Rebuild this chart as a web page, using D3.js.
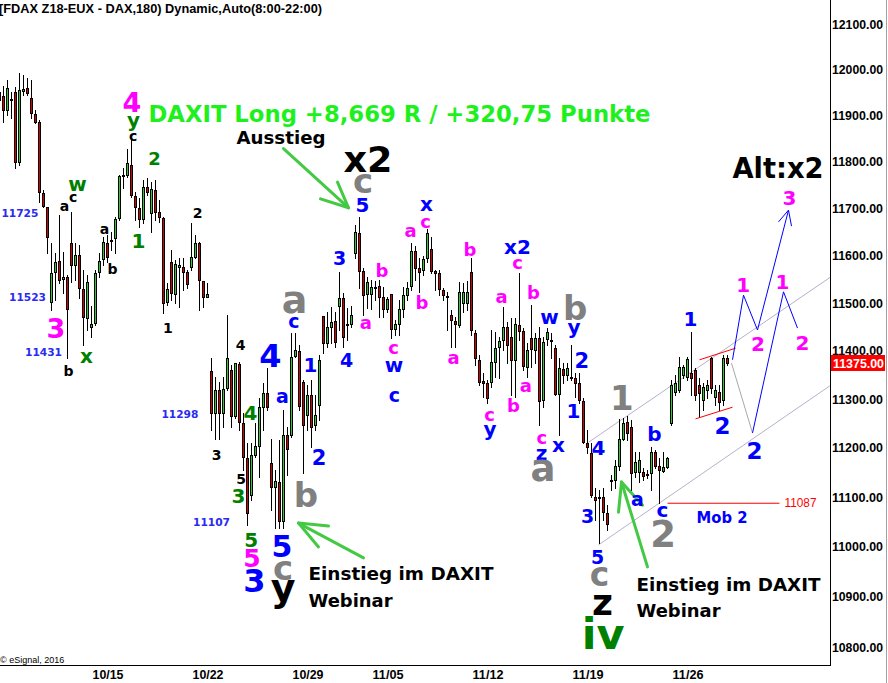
<!DOCTYPE html>
<html><head><meta charset="utf-8">
<script src="https://cdn.jsdelivr.net/npm/d3@7"></script>
<style>body{margin:0;background:#fff;}svg{display:block;}</style>
</head><body>
<svg id="c" width="888" height="683"></svg>
<script>
// ---------------- DATA ----------------
const opens = [11933,11942,11912,11936,11951,11799,11953,11960,11938,11903,
11886,11733,11703,11502,11565,11588,11550,11554,11626,11580,
11601,11529,11468,11449,11458,11565,11592,11626,11633,11637,
11679,11769,11771,11793,11726,11701,11677,11746,11690,11739,
11692,11679,11502,11586,11519,11575,11575,11565,11575,11596,
11626,11546,11512,11358,11271,11318,11271,11322,11360,11265,
11372,11251,11179,11104,11185,11204,11283,11312,11169,11120,
11130,11051,11226,11226,11389,11399,11335,11267,11308,11246,
11288,11472,11416,11449,11462,11493,11510,11456,11456,11605,
11647,11567,11519,11519,11533,11535,11512,11487,11519,11445,
11456,11487,11517,11535,11609,11573,11569,11594,11614,11567,
11563,11527,11514,11474,11462,11453,11500,11500,11565,11437,
11381,11337,11333,11335,11376,11408,11422,11449,11428,11381,
11453,11441,11366,11426,11401,11426,11298,11424,11422,11405,
11310,11362,11349,11345,11343,11333,11296,11210,11189,11100,
11100,11100,11067,11132,11134,11163,11218,11253,11242,11151,
11151,11151,11146,11149,11191,11163,11153,11161,11251,11315,
11318,11349,11345,11354,11360,11329,11298,11318,11385,11304,
11315,11298,11385];
const highs = [12001,11964,11977,11951,11962,11992,11988,11981,11977,11912,
11890,11739,11703,11626,11605,11686,11607,11559,11692,11626,
11622,11569,11559,11493,11569,11605,11639,11643,11649,11681,
11771,11786,11827,11847,11735,11722,11761,11765,11756,11761,
11718,11681,11542,11611,11590,11594,11594,11569,11669,11643,
11628,11546,11542,11385,11345,11335,11345,11475,11370,11374,
11376,11271,11210,11210,11251,11302,11333,11364,11218,11155,
11216,11277,11242,11437,11437,11412,11339,11329,11339,11308,
11391,11472,11481,11491,11481,11565,11521,11489,11493,11664,
11681,11573,11554,11548,11546,11548,11533,11512,11519,11464,
11506,11533,11544,11626,11620,11594,11599,11656,11639,11569,
11569,11531,11523,11485,11470,11544,11542,11546,11594,11443,
11391,11354,11339,11443,11439,11428,11491,11460,11468,11468,
11563,11447,11416,11495,11437,11449,11428,11447,11437,11412,
11385,11374,11374,11412,11354,11354,11302,11236,11210,11118,
11114,11118,11083,11145,11175,11259,11261,11265,11257,11191,
11191,11159,11155,11201,11195,11179,11191,11181,11339,11350,
11387,11370,11387,11439,11364,11343,11333,11339,11387,11329,
11329,11391,11391];
const lows = [11907,11886,11901,11894,11786,11793,11944,11944,11894,11883,
11714,11703,11605,11485,11506,11542,11521,11385,11544,11548,
11510,11412,11443,11428,11454,11554,11580,11586,11611,11605,
11675,11744,11767,11724,11675,11660,11669,11728,11649,11675,
11671,11479,11495,11506,11500,11491,11527,11531,11569,11594,
11485,11491,11512,11236,11217,11217,11242,11318,11242,11261,
11236,11155,11043,11094,11181,11141,11236,11277,11073,11037,
11037,11037,11144,11222,11387,11277,11148,11236,11201,11236,
11257,11395,11408,11416,11408,11443,11408,11422,11449,11594,
11531,11474,11489,11487,11506,11470,11470,11481,11426,11433,
11433,11470,11506,11527,11548,11523,11559,11586,11563,11527,
11517,11506,11443,11408,11408,11449,11481,11485,11433,11370,
11329,11304,11292,11325,11345,11343,11401,11374,11308,11304,
11422,11360,11345,11366,11374,11246,11283,11412,11385,11308,
11226,11333,11339,11339,11304,11292,11210,11189,11100,11053,
11007,11053,11033,11114,11118,11155,11216,11216,11114,11140,
11130,11134,11138,11114,11159,11087,11151,11159,11246,11308,
11315,11343,11339,11308,11298,11263,11277,11302,11312,11288,
11277,11288,11370];
const closes = [11951,11912,11960,11933,11799,11955,11957,11949,11905,11886,
11735,11705,11639,11563,11586,11548,11554,11487,11580,11601,
11531,11470,11544,11456,11563,11588,11628,11596,11631,11677,
11769,11771,11797,11728,11703,11677,11746,11735,11741,11692,
11681,11500,11529,11521,11582,11580,11565,11540,11596,11626,
11548,11512,11519,11271,11318,11271,11320,11385,11265,11374,
11253,11181,11067,11185,11204,11283,11312,11283,11120,11132,
11051,11226,11197,11387,11401,11285,11246,11308,11242,11267,
11381,11416,11449,11460,11418,11510,11428,11454,11474,11650,
11567,11517,11544,11533,11531,11512,11487,11508,11445,11456,
11487,11517,11531,11609,11573,11565,11592,11647,11567,11563,
11529,11517,11512,11464,11456,11523,11523,11523,11443,11385,
11335,11333,11302,11376,11405,11420,11449,11412,11381,11456,
11441,11368,11401,11403,11426,11296,11418,11439,11422,11310,
11364,11349,11364,11345,11333,11298,11212,11201,11104,11094,
11098,11069,11045,11134,11163,11218,11251,11230,11149,11171,
11175,11142,11146,11191,11163,11155,11161,11179,11329,11333,
11366,11366,11383,11343,11308,11312,11325,11329,11322,11318,
11294,11385,11375];
const dateLabels = ["10/15","10/22","10/29","11/05","11/12","11/19","11/26"];
const dateIndex  = [27,52,77,97,122,147,172];
const priceTicks = [10800,10900,11000,11100,11200,11300,11400,11500,11600,11700,11800,11900,12000,12100];
const lastPrice = 11375;
const mobLevel = 11087;

// trend / projection lines: [barIndex, price]
const channelUpper = [[147.25,11211],[207.75,11554]];
const channelLower = [[149.75,11003],[207.75,11328]];
const redUpper = [[175,11381],[184,11405]];
const redLower = [[174,11259],[183.25,11283]];
const mobLine = [[167,mobLevel],[195,mobLevel]];
const grayProj = [[183,11374],[188.25,11230]];
const projA = [[183.25,11381],[186,11516],[189.5,11443],[197.25,11696]];
const projAHead = [[194.75,11671],[197.25,11696],[198,11662]];
const projB = [[188.25,11230],[196,11523],[199.5,11447]];
const arrow1 = [[71,11828],[87.25,11701]], arrow1Head = [[84.5,11756],[87.25,11701],[80.25,11720]];
const arrow2 = [[91,10977],[74.75,11047]], arrow2Head = [[82.25,11041],[74.75,11047],[79.75,10999]];
const arrow3 = [[162,10959],[155.5,11130]], arrow3Head = [[154.75,11069],[155.5,11130],[160.75,11083]];

// wave labels: [barIndex, price, text, styleKey]
const waveLabels = [
 [33.4,11852,"c","k14"],[16.25,11702,"a","k14"],[18.4,11722,"c","k14"],[26.25,11653,"a","k14"],
 [28.25,11572,"b","k14"],[49.5,11690,"2","k14"],[42.1,11448,"1","k14"],[17.25,11358,"b","k14"],
 [60.25,11412,"4","k14"],[54.25,11186,"3","k14"],[60.4,11137,"5","k14"],
 [33.5,11882,"y","g20"],[38.75,11807,"2","g18"],[19.5,11748,"w","g20"],[34.75,11632,"1","g20"],
 [21.75,11386,"x","g20"],[62.75,11272,"4","g20"],[59.75,11103,"3","g20"],[62.9,11014,"5","g20"],
 [150.9,10827,"iv","g43"],
 [33.1,11929,"4","m27"],[14.1,11447,"3","m27"],[63.1,10978,"5","m25"],
 [95.6,11567,"b","m18"],[91.6,11456,"a","m18"],[98.5,11403,"c","m18"],[102.75,11650,"a","m18"],
 [106.5,11669,"c","m18"],[105.6,11501,"b","m18"],[113.5,11383,"a","m18"],[117.6,11612,"b","m18"],
 [129.5,11582,"c","m18"],[125.5,11509,"a","m18"],[133.5,11521,"b","m18"],[122.5,11265,"c","m18"],
 [128.5,11286,"b","m18"],[131.6,11324,"a","m18"],[135.6,11218,"c","m18"],
 [185.9,11538,"1","m20"],[189.6,11414,"2","m20"],[197.5,11723,"3","m20"],[195.75,11544,"1","m20"],[200.75,11416,"2","m20"],
 [90.75,11708,"5","b20"],[85,11594,"3","b19"],[86.75,11381,"4","b19"],[106.75,11705,"x","b20"],
 [98.6,11367,"w","b20"],[98.75,11304,"c","b19"],[129.5,11619,"x2","b20"],[137.5,11467,"w","b20"],
 [143.6,11442,"y","b20"],[145.6,11380,"2","b21"],[122.6,11230,"y","b20"],[135.5,11187,"z","b20"],
 [139.75,11203,"x","b20"],[143.5,11275,"1","b20"],[67.75,11391,"4","b32"],[73.6,11458,"c","b19"],
 [77.75,11371,"1","b20"],[70.75,11303,"a","b19"],[79.9,11180,"2","b21"],[70.6,11001,"5","b30"],
 [63.75,10933,"3","b32"],[149.75,11199,"4","b20"],[147,11061,"3","b19"],[149.5,10979,"5","b19"],
 [163.75,11228,"b","b20"],[159.5,11092,"a","b19"],[165.75,11071,"c","b20"],[172.75,11466,"1","b20"],
 [180.75,11246,"2","b23"],[188.75,11195,"2","b23"],
 [90.9,11752,"c","gr34"],[73.75,11500,"a","gr38"],[76.6,11105,"b","gr34"],[70.9,10951,"c","gr34"],
 [143.9,11490,"b","gr34"],[135.9,11152,"a","gr37"],[155.6,11303,"1","gr34"],[165.9,11026,"2","gr37"],
 [150,10938,"c","gr33"],
 [70.9,10902,"y","k38"],[150.75,10883,"z","k36"]
];
// price notes: [barIndex, price, text]
const priceNotes = [[5.1,11690,"11725"],[7,11512,"11523"],[11,11397,"11431"],[45.1,11269,"11298"],[53,11049,"11107"]];
// free texts: [barIndex, price, text, styleKey, anchor, width]
const texts = [
 [37.25,11903,"DAXIT Long +8,669 R / +320,75 Punkte","lime",  "start",502],
 [59.25,11852,"Ausstieg","t18","start",89],
 [92.1,11807,"x2","t36","middle",49],
 [183.25,11786,"Alt:x2","t27","start",91],
 [77.25,10946,"Einstieg im DAXIT","t18","start",185],
 [77.25,10893,"Webinar","t18","start",84],
 [159.25,10925,"Einstieg im DAXIT","t18","start",184],
 [159.25,10873,"Webinar","t18","start",84],
 [174.25,11058,"Mob 2","mob","start",51],
 [196.25,11090,"11087","red","start",32]
];

// ---------------- STYLES ----------------
const FA = "'Liberation Sans', Arial, sans-serif";
const FV = "'DejaVu Sans', Verdana, sans-serif";
const ST = {
 k14:{c:"#000",s:14}, k36:{c:"#000",s:36}, k38:{c:"#000",s:38},
 g18:{c:"#008000",s:18}, g20:{c:"#008000",s:20}, g43:{c:"#008000",s:43},
 m18:{c:"#ff00ff",s:18}, m20:{c:"#ff00ff",s:20}, m25:{c:"#ff00ff",s:25}, m27:{c:"#ff00ff",s:27},
 b19:{c:"#0000ff",s:19}, b20:{c:"#0000ff",s:20}, b21:{c:"#0000ff",s:21}, b23:{c:"#0000ff",s:23},
 b30:{c:"#0000ff",s:30}, b32:{c:"#0000ff",s:32},
 gr33:{c:"#808080",s:33}, gr34:{c:"#808080",s:34}, gr37:{c:"#808080",s:37}, gr38:{c:"#808080",s:38},
 lime:{c:"#1ef01e",s:22.5}, t18:{c:"#000",s:18.3}, t36:{c:"#000",s:36}, t27:{c:"#000",s:27.5},
 mob:{c:"#0000ff",s:15}, red:{c:"#ff0000",s:13,w:"normal",f:FA}
};
const UP="#2ecc2e", DOWN="#d40000";

// ---------------- SCALES ----------------
const svg = d3.select("#c");
const x = d3.scaleLinear().domain([0,207.75]).range([-1,830]);
const y = d3.scaleLog().domain([10800,12100]).range([647,24]);
const px = d => Math.round(x(d));
function baseOff(t){
  if (/[A-Z0-9bdfhiklt]/.test(t)) return 0.365;
  if (/[gjpqy]/.test(t)) return 0.155;
  return 0.275;
}

svg.append("rect").attr("width",888).attr("height",683).attr("fill","#fff");
svg.append("defs").append("clipPath").attr("id","plot").append("rect")
  .attr("x",0).attr("y",0).attr("width",830).attr("height",665);

// header
svg.append("text").attr("x",-1).attr("y",12.7).attr("font-family",FA).attr("font-weight","bold")
  .attr("font-size",12.8).attr("textLength",323).attr("lengthAdjust","spacingAndGlyphs")
  .text("[FDAX Z18-EUX - DAX,180) Dynamic,Auto(8:00-22:00)");

const plot = svg.append("g").attr("clip-path","url(#plot)");
const line = d3.line().x(d=>x(d[0])+0.5).y(d=>y(d[1]));

// channel & projection lines
plot.append("path").attr("d",line(channelUpper)).attr("stroke","#b9b0cc").attr("fill","none");
plot.append("path").attr("d",line(channelLower)).attr("stroke","#b9b0cc").attr("fill","none");
plot.append("path").attr("d",line(grayProj)).attr("stroke","#a8a8a8").attr("fill","none");

// candles
const bars = d3.range(closes.length).map(i=>({i,o:opens[i],h:highs[i],l:lows[i],c:closes[i]}));
const cg = plot.append("g").attr("shape-rendering","crispEdges");
cg.selectAll("line").data(bars).join("line")
  .attr("x1",d=>px(d.i)+0.5).attr("x2",d=>px(d.i)+0.5)
  .attr("y1",d=>Math.round(y(d.h))).attr("y2",d=>Math.round(y(d.l))+1)
  .attr("stroke","#000").attr("stroke-width",1);
const geo = d=>{const t=Math.round(y(Math.max(d.o,d.c))), b=Math.round(y(Math.min(d.o,d.c))); return {t, h:Math.max(1,b-t)};};
cg.selectAll("rect.o").data(bars).join("rect").attr("class","o")
  .attr("x",d=>px(d.i)-1).attr("y",d=>geo(d).t).attr("width",3).attr("height",d=>geo(d).h+1).attr("fill","#000");
cg.selectAll("rect.in").data(bars.filter(d=>geo(d).h>=2)).join("rect").attr("class","in")
  .attr("x",d=>px(d.i)).attr("y",d=>geo(d).t+1).attr("width",1).attr("height",d=>geo(d).h-1)
  .attr("fill",d=>d.c>=d.o?UP:DOWN);

// red & blue lines
[redUpper,redLower,mobLine].forEach(p=>plot.append("path").attr("d",line(p)).attr("stroke","#ff0000").attr("fill","none"));
[projA,projAHead,projB].forEach(p=>plot.append("path").attr("d",line(p)).attr("stroke","#0000ff").attr("fill","none"));

// green arrows
[arrow1,arrow1Head,arrow2,arrow2Head,arrow3,arrow3Head].forEach(p=>
  plot.append("path").attr("d",line(p)).attr("stroke","#44c944").attr("stroke-width",3)
   .attr("stroke-linecap","round").attr("stroke-linejoin","round").attr("fill","none"));

// wave labels
const lg = plot.append("g").attr("font-family",FV).attr("font-weight","bold").attr("text-anchor","middle");
lg.selectAll("text").data(waveLabels).join("text")
  .attr("x",d=>x(d[0])+0.5).attr("y",d=>y(d[1])+baseOff(d[2])*ST[d[3]].s)
  .attr("font-size",d=>ST[d[3]].s).attr("fill",d=>ST[d[3]].c).text(d=>d[2]);

// price notes
lg.selectAll("text.pn").data(priceNotes).join("text").attr("class","pn")
  .attr("x",d=>x(d[0])+0.5).attr("y",d=>y(d[1])+0.365*11.2).attr("font-size",11.2).attr("fill","#2a2af0")
  .attr("textLength",37).attr("lengthAdjust","spacingAndGlyphs").text(d=>d[2]);

// free texts
plot.append("g").selectAll("text").data(texts).join("text")
  .attr("x",d=>x(d[0])+0.5).attr("y",d=>y(d[1])+0.365*ST[d[3]].s)
  .attr("font-family",d=>ST[d[3]].f||FV).attr("font-weight",d=>ST[d[3]].w||"bold")
  .attr("font-size",d=>ST[d[3]].s).attr("fill",d=>ST[d[3]].c).attr("text-anchor",d=>d[4])
  .attr("textLength",d=>d[5]).attr("lengthAdjust","spacingAndGlyphs").text(d=>d[2]);

// copyright
svg.append("text").attr("x",0).attr("y",663).attr("font-family",FA).attr("font-size",9).text("\u00a9 eSignal, 2016");

// axes
const yAxis = d3.axisRight(y).tickValues(priceTicks).tickFormat(d3.format(".2f")).tickSize(0).tickPadding(2);
const ya = svg.append("g").attr("transform","translate(830,0)").call(yAxis);
ya.select(".domain").remove();
ya.selectAll("text").attr("font-family",FA).attr("font-weight","bold").attr("font-size",12).attr("fill","#000")
  .attr("dy","0.36em").attr("textLength",51).attr("lengthAdjust","spacingAndGlyphs");

const xAxis = d3.axisBottom(x).tickValues(dateIndex).tickFormat((d,k)=>dateLabels[k]).tickSize(0).tickPadding(5);
const xa = svg.append("g").attr("transform","translate(0.5,665)").call(xAxis);
xa.select(".domain").remove();
xa.selectAll("text").attr("font-family",FA).attr("font-weight","bold").attr("font-size",13).attr("fill","#000")
  .attr("textLength",31).attr("lengthAdjust","spacingAndGlyphs");

svg.append("line").attr("x1",0).attr("x2",831).attr("y1",665.5).attr("y2",665.5).attr("stroke","#000");
svg.append("line").attr("x1",830.5).attr("x2",830.5).attr("y1",0).attr("y2",666).attr("stroke","#000");
svg.append("line").attr("x1",886.5).attr("x2",886.5).attr("y1",0).attr("y2",683).attr("stroke","#a0a0a0");

// last price marker
const ly = Math.round(y(lastPrice));
svg.append("rect").attr("x",831).attr("y",ly-8).attr("width",54).attr("height",16).attr("fill","#ff0000");
svg.append("text").attr("x",833).attr("y",ly+4.5).attr("font-family",FA).attr("font-weight","bold").attr("font-size",12)
  .attr("fill","#fff").attr("textLength",51).attr("lengthAdjust","spacingAndGlyphs").text(d3.format(".2f")(lastPrice));
</script>
</body></html>
